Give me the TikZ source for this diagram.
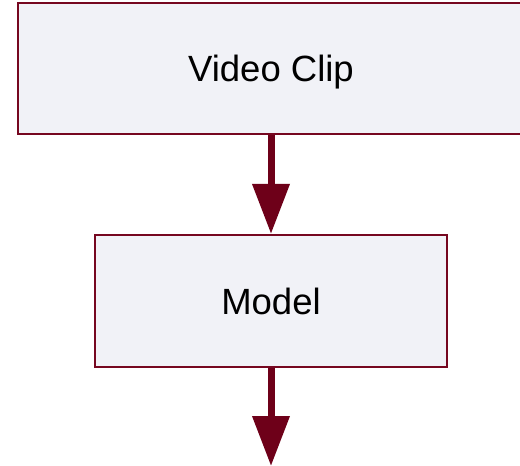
\documentclass[tikz,border=0pt]{standalone}
\usepackage{fontspec}
\setmainfont{Liberation Sans}
\usetikzlibrary{arrows.meta}
\definecolor{boxline}{HTML}{760720}
\definecolor{boxfill}{HTML}{F1F2F7}
\definecolor{arrowc}{HTML}{6E0019}
\tikzset{
  procbox/.style={draw=boxline, fill=boxfill, line width=2.2pt, inner sep=0pt,
    text height=26pt, text depth=0pt,
    font=\fontsize{36.5}{40}\selectfont},
  flow/.style={draw=arrowc, line width=7pt,
    -{Triangle[width=36pt,length=50pt]}}
}
\begin{document}
\begin{tikzpicture}[x=1pt,y=-1pt]
\useasboundingbox (0,0) rectangle (520,466);
\clip (0,0) rectangle (520,466);
\node[procbox, minimum width=506pt, minimum height=131pt] (clip) at (271,68.5) {Video Clip};
\node[procbox, minimum width=352pt, minimum height=132pt] (model) at (271,301) {Model};
\coordinate (out) at (271,466);
\draw[flow] (clip.south) -- (model.north);
\draw[flow] (model.south) -- (out);
\end{tikzpicture}
\end{document}
